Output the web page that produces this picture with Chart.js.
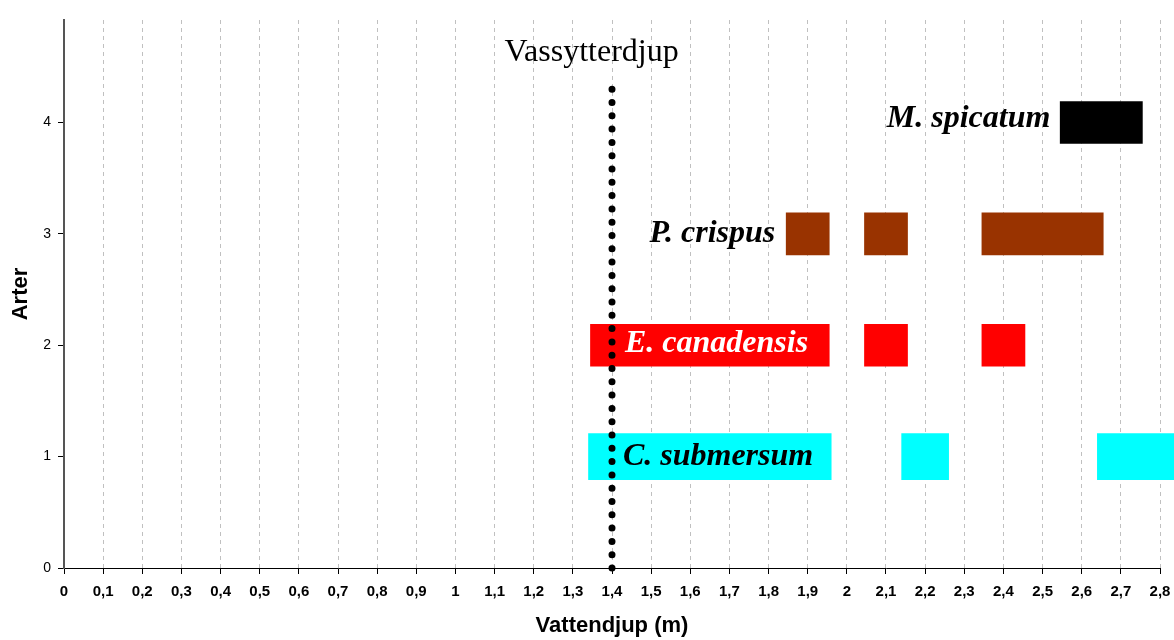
<!DOCTYPE html>
<html>
<head>
<meta charset="utf-8">
<title>Arter och vattendjup</title>
<script src="https://cdn.jsdelivr.net/npm/chart.js@4/dist/chart.umd.min.js"></script>
<style>
  html, body { margin: 0; padding: 0; background: #fff; }
  #wrap { width: 1174px; height: 640px; }
</style>
</head>
<body>
<div id="wrap"><canvas id="myChart" width="1174" height="640"></canvas></div>
<script>
// Depth ranges (m) where each species was found, one row per species
const species = ["C. submersum", "E. canadensis", "P. crispus", "M. spicatum"];
const speciesRow = [1, 2, 3, 4];
const depthRanges = [
  [[1.34, 1.96], [2.14, 2.26], [2.64, 2.9]],
  [[1.345, 1.955], [2.045, 2.155], [2.345, 2.455]],
  [[1.845, 1.955], [2.045, 2.155], [2.345, 2.655]],
  [[2.545, 2.755]],
];
const speciesColors = ["#00FFFF", "#FF0000", "#993300", "#000000"];
const labelColors = ["#000000", "#FFFFFF", "#000000", "#000000"];

// Where each species name sits (right end in m, baseline in row units)
const labelEndDepth = [1.914, 1.901, 1.817, 2.52];
const labelBaseline = [0.924, 1.935, 2.926, 3.958];

// Reed belt outer edge
const reedDepth = 1.4;
const reedLineTop = 4.36;
const reedLabel = "Vassytterdjup";
const reedLabelAt = { x: 1.348, y: 4.556 };

const xTicksMax = 2.8;
const yTicksMax = 4.92;

document.addEventListener("DOMContentLoaded", () => {
  const datasets = species.map((name, i) => ({
    label: name,
    data: depthRanges[i].map((r) => ({ x: r, y: speciesRow[i] })),
    backgroundColor: speciesColors[i],
    borderWidth: 0,
    barThickness: i === 0 ? 46 : 42,
    clip: i === 0 ? false : 0,
  }));

  const annotations = {
    id: "annotations",
    afterDatasetsDraw(chart) {
      const { ctx, scales: { x, y } } = chart;
      ctx.save();

      // dotted vertical line
      const px = x.getPixelForValue(reedDepth);
      ctx.beginPath();
      ctx.moveTo(px, y.getPixelForValue(0));
      ctx.lineTo(px, y.getPixelForValue(reedLineTop));
      ctx.lineWidth = 7;
      ctx.lineCap = "round";
      ctx.setLineDash([0, 13.3]);
      ctx.strokeStyle = "#000";
      ctx.stroke();
      ctx.setLineDash([]);

      ctx.fillStyle = "#000";
      ctx.font = '32px "Liberation Serif"';
      ctx.textAlign = "center";
      ctx.textBaseline = "alphabetic";
      ctx.fillText(reedLabel, x.getPixelForValue(reedLabelAt.x), y.getPixelForValue(reedLabelAt.y));

      // species names
      ctx.font = 'italic bold 32px "Liberation Serif"';
      ctx.textAlign = "right";
      species.forEach((name, i) => {
        ctx.fillStyle = labelColors[i];
        ctx.fillText(name, x.getPixelForValue(labelEndDepth[i]), y.getPixelForValue(labelBaseline[i]));
      });
      ctx.restore();
    },
  };

  new Chart(document.getElementById("myChart").getContext("2d"), {
    type: "bar",
    data: { datasets },
    options: {
      indexAxis: "y",
      responsive: false,
      animation: false,
      grouped: false,
      layout: { padding: { top: 20, right: 14, left: 0, bottom: 0 } },
      plugins: { legend: { display: false }, tooltip: { enabled: false } },
      scales: {
        x: {
          type: "linear",
          min: 0,
          max: xTicksMax,
          ticks: {
            stepSize: 0.1,
            autoSkip: false,
            maxRotation: 0,
            padding: 9,
            color: "#000",
            font: { family: '"Liberation Sans"', size: 15, weight: "bold" },
            callback: (v) => String(Math.round(v * 10) / 10).replace(".", ","),
          },
          grid: {
            color: "#c0c0c0",
            lineWidth: 1,
            tickColor: "#000",
            tickLength: 6,
            tickBorderDash: [],
          },
          border: { color: "#000", width: 1, dash: [4, 4] },
          title: {
            display: true,
            text: "Vattendjup (m)",
            color: "#000",
            font: { family: '"Liberation Sans"', size: 22, weight: "bold" },
            padding: { top: 4, bottom: 1 },
          },
          afterFit: (scale) => {
            scale.height = 72;
            scale.paddingLeft = 0;
            scale.paddingRight = 0;
          },
        },
        y: {
          type: "linear",
          min: 0,
          max: yTicksMax,
          offset: false,
          ticks: {
            stepSize: 1,
            includeBounds: false,
            padding: 7,
            color: "#000",
            font: { family: '"Liberation Sans"', size: 14 },
          },
          grid: {
            offset: false,
            drawOnChartArea: false,
            tickColor: "#000",
            tickLength: 6,
          },
          border: { color: "#555", width: 2 },
          title: {
            display: true,
            text: "Arter",
            color: "#000",
            font: { family: '"Liberation Sans"', size: 22, weight: "bold" },
            padding: { top: 8, bottom: 0 },
          },
          afterFit: (scale) => {
            scale.width = 64;
          },
        },
      },
    },
    plugins: [annotations],
  });
});
</script>
</body>
</html>
